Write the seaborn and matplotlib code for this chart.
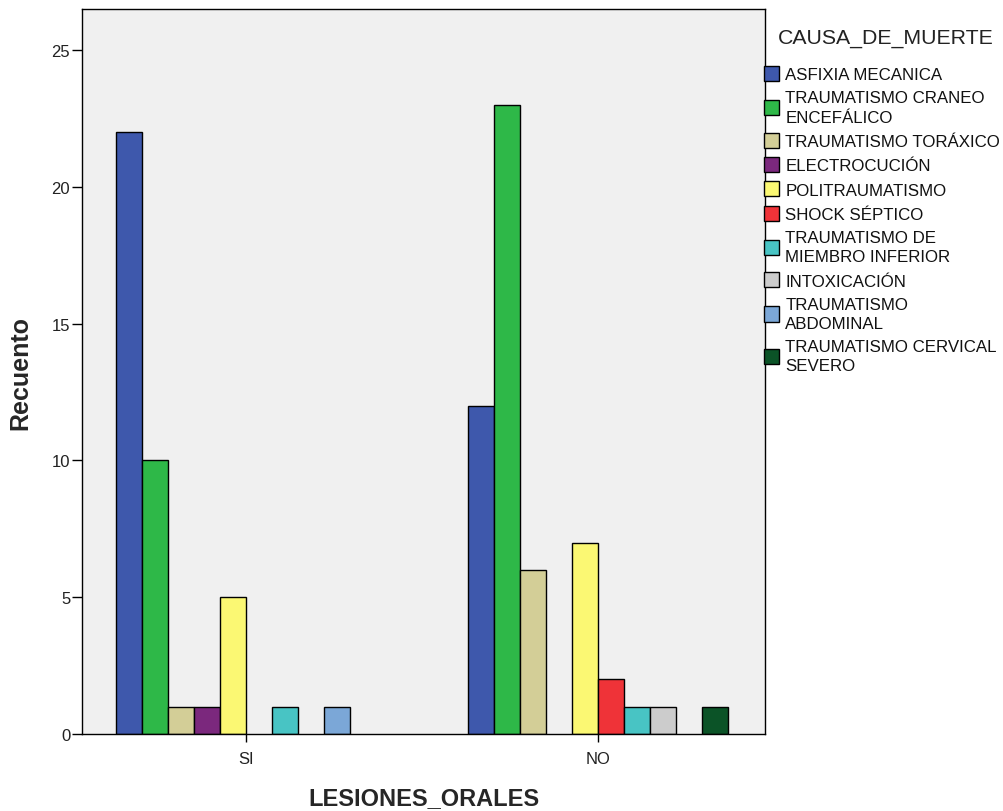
import matplotlib
matplotlib.use("Agg")
import matplotlib.pyplot as plt
import seaborn as sns
import pandas as pd

sns.set_style("white")
plt.rcParams['font.family'] = ['Liberation Sans', 'DejaVu Sans']

groups = ["SI", "NO"]
causes = ["ASFIXIA MECANICA", "TRAUMATISMO CRANEO ENCEFÁLICO", "TRAUMATISMO TORÁXICO",
          "ELECTROCUCIÓN", "POLITRAUMATISMO", "SHOCK SÉPTICO",
          "TRAUMATISMO DE MIEMBRO INFERIOR", "INTOXICACIÓN",
          "TRAUMATISMO ABDOMINAL", "TRAUMATISMO CERVICAL SEVERO"]
legend_labels = ["ASFIXIA MECANICA", "TRAUMATISMO CRANEO\nENCEFÁLICO", "TRAUMATISMO TORÁXICO",
                 "ELECTROCUCIÓN", "POLITRAUMATISMO", "SHOCK SÉPTICO",
                 "TRAUMATISMO DE\nMIEMBRO INFERIOR", "INTOXICACIÓN",
                 "TRAUMATISMO\nABDOMINAL", "TRAUMATISMO CERVICAL\nSEVERO"]
counts_si = [22, 10, 1, 1, 5, 0, 1, 0, 1, 0]
counts_no = [12, 23, 6, 0, 7, 2, 1, 1, 0, 1]
colors = ["#3E58AC", "#2EB848", "#D3CE97", "#7B287D", "#FBF873", "#EF3338",
          "#48C4C4", "#CCCCCC", "#7BA7D7", "#0B5327"]

rows = []
for g, vals in zip(groups, [counts_si, counts_no]):
    for c, v in zip(causes, vals):
        if v > 0:
            rows.append({"LESIONES_ORALES": g, "CAUSA_DE_MUERTE": c, "Recuento": v})
df = pd.DataFrame(rows)

fig = plt.figure(figsize=(10.04, 8.12), dpi=100)
ax = fig.add_axes([0.0817, 0.0948, 0.762 - 0.0817, 0.9877 - 0.0948])
ax.set_facecolor("#F0F0F0")

sns.barplot(data=df, x="LESIONES_ORALES", y="Recuento", hue="CAUSA_DE_MUERTE",
            order=groups, hue_order=causes, palette=colors, width=0.739,
            saturation=1, edgecolor="black", linewidth=1.0, errorbar=None,
            ax=ax, gap=0)

ax.set_xlim(-0.466, 1.474)
ax.set_ylim(0, 26.5)
ax.set_yticks([0, 5, 10, 15, 20, 25])
ax.tick_params(axis="both", direction="out", length=7, width=1, color="black",
               labelsize=12, labelcolor="#222222", bottom=True, left=True)
ax.tick_params(axis="y", pad=1.5)
ax.tick_params(axis="x", length=6, pad=6)
for s in ax.spines.values():
    s.set_color("black")
    s.set_linewidth(1.0)

ax.set_ylabel("Recuento", fontsize=18, fontweight="bold", labelpad=14)
ax.set_xlabel("LESIONES_ORALES", fontsize=17, fontweight="bold", labelpad=15)

handles, _ = ax.get_legend_handles_labels()
leg = ax.legend(handles, legend_labels, loc="upper left",
                bbox_to_anchor=(764 / 1004, 1 - 67 / 812), bbox_transform=fig.transFigure,
                frameon=False, fontsize=12.2,
                handlelength=0.9, handleheight=1.0,
                handletextpad=0.35, labelspacing=0.47, borderaxespad=0.0,
                borderpad=0.0)
for h in leg.legend_handles:
    h.set_edgecolor("black")
    h.set_linewidth(1.0)
for t in leg.get_texts():
    t.set_linespacing(1.36)
    t.set_color("#111111")

fig.text(886 / 1004, 1 - 38 / 812, "CAUSA_DE_MUERTE", fontsize=15.3,
         ha="center", va="center", color="#222222")

fig.savefig("out.png", dpi=100)
